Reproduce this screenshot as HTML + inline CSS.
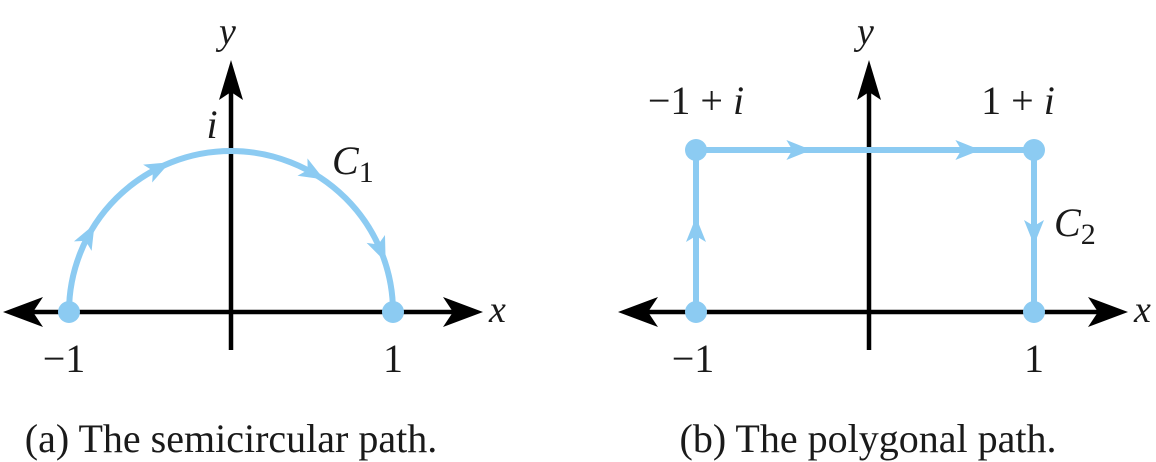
<!DOCTYPE html>
<html><head><meta charset="utf-8"><style>
html,body{margin:0;padding:0;background:#fff;}
svg{display:block;}
text{font-family:"Liberation Serif",serif;fill:#1a1a1a;}
</style></head><body>
<svg id="fig" width="1156" height="462" viewBox="0 0 1156 462"></svg>
<script>
// Data
const leftPoints = [-1, 1];
const arcArrowAngles = [152, 117, 60, 23];
const polyVertices = [[-1,0],[-1,1],[1,1],[1,0]];
const polyArrowFracs = [[0,0.5],[1,0.3],[1,0.8],[2,0.5]];
const BLUE = '#8ccbf2';
const NS = 'http://www.w3.org/2000/svg';
const svg = document.getElementById('fig');
function el(tag, attrs, parent){const e=document.createElementNS(NS,tag);for(const k in attrs)e.setAttribute(k,attrs[k]);(parent||svg).appendChild(e);return e;}
function panel(name){
  const g = el('g',{});
  
  
  return g;
}
function axes(g, cx, x0, x1){
  const a = el('g',{},g);
  
  
  el('line',{x1:x0+14,y1:312,x2:x1-14,y2:312,stroke:'#000','stroke-width':4.5},a);
  el('line',{x1:cx,y1:350,x2:cx,y2:80,stroke:'#000','stroke-width':4.5},a);
  el('path',{d:`M${x0},312 L${x0+40},297 L${x0+30},312 L${x0+40},327 Z`,fill:'#000'},a);
  el('path',{d:`M${x1},312 L${x1-40},297 L${x1-30},312 L${x1-40},327 Z`,fill:'#000'},a);
  el('path',{d:`M${cx},60 L${cx-12},100 L${cx},92 L${cx+12},100 Z`,fill:'#000'},a);
  const xl=el('text',{x:x1+6,y:322,'font-size':38,'font-style':'italic'},a);xl.textContent='x';
  
  
  const yl=el('text',{x:cx-12,y:44,'font-size':38,'font-style':'italic'},a);yl.textContent='y';
  
  
}
function arrowHead(g,x,y,ang){
  el('path',{d:'M14,0 L-11,-10 L-5,0 L-11,10 Z',fill:BLUE,transform:`translate(${x},${y}) rotate(${ang})`},g);
}
function txt(g,x,y,s,name,size,anchor){const t=el('text',{x:x,y:y,'font-size':size||40,'text-anchor':anchor||'middle'},g);t.innerHTML=s;
  
  return t;}
// Left panel
const L = panel('semicircle-panel');
const lx = v => 231 + v*162;
axes(L,231,3,483);
const arc = el('path',{d:`M${lx(-1)},312 A162,161 0 0 1 ${lx(1)},312`,fill:'none',stroke:BLUE,'stroke-width':6},L);


arcArrowAngles.forEach(t=>{const r=t*Math.PI/180;const x=231+162*Math.cos(r),y=312-161*Math.sin(r);
  const dx=162*Math.sin(r),dy=161*Math.cos(r);arrowHead(L,x,y,Math.atan2(dy,dx)*180/Math.PI);});
leftPoints.forEach(v=>{const c=el('circle',{cx:lx(v),cy:312,r:11,fill:BLUE},L);
  
  });
txt(L,64,372,'−1','tick-minus-1');
txt(L,393,372,'1','tick-1');
txt(L,212,138,'<tspan font-style="italic">i</tspan>','label-i');
txt(L,332,174,'<tspan font-style="italic">C</tspan><tspan font-size="30" dy="8">1</tspan>','label-c1',40,'start');
txt(L,231,452,'(a) The semicircular path.','caption-a',40);
// Right panel
const R = panel('polygon-panel');
const rx = v => 865 + v*169, ry = v => 312 - v*162;
axes(R,869,618,1128);
const pts = polyVertices.map(p=>`${rx(p[0])},${ry(p[1])}`).join(' ');
const poly = el('polyline',{points:pts,fill:'none',stroke:BLUE,'stroke-width':6},R);


polyArrowFracs.forEach(([i,f])=>{const a=polyVertices[i],b=polyVertices[i+1];
  const x=rx(a[0]+(b[0]-a[0])*f),y=ry(a[1]+(b[1]-a[1])*f);
  const ang=Math.atan2(ry(b[1])-ry(a[1]),rx(b[0])-rx(a[0]))*180/Math.PI;arrowHead(R,x,y,ang);});
polyVertices.forEach(p=>{const c=el('circle',{cx:rx(p[0]),cy:ry(p[1]),r:11,fill:BLUE},R);
  
  });
txt(R,693,372,'−1','tick-minus-1');
txt(R,1034,372,'1','tick-1');
txt(R,696,114,'−1 + <tspan font-style="italic">i</tspan>','label-minus-1-plus-i');
txt(R,1018,114,'1 + <tspan font-style="italic">i</tspan>','label-1-plus-i');
txt(R,1054,236,'<tspan font-style="italic">C</tspan><tspan font-size="30" dy="8">2</tspan>','label-c2',40,'start');
txt(R,868,452,'(b) The polygonal path.','caption-b',40);
</script>
</body></html>
